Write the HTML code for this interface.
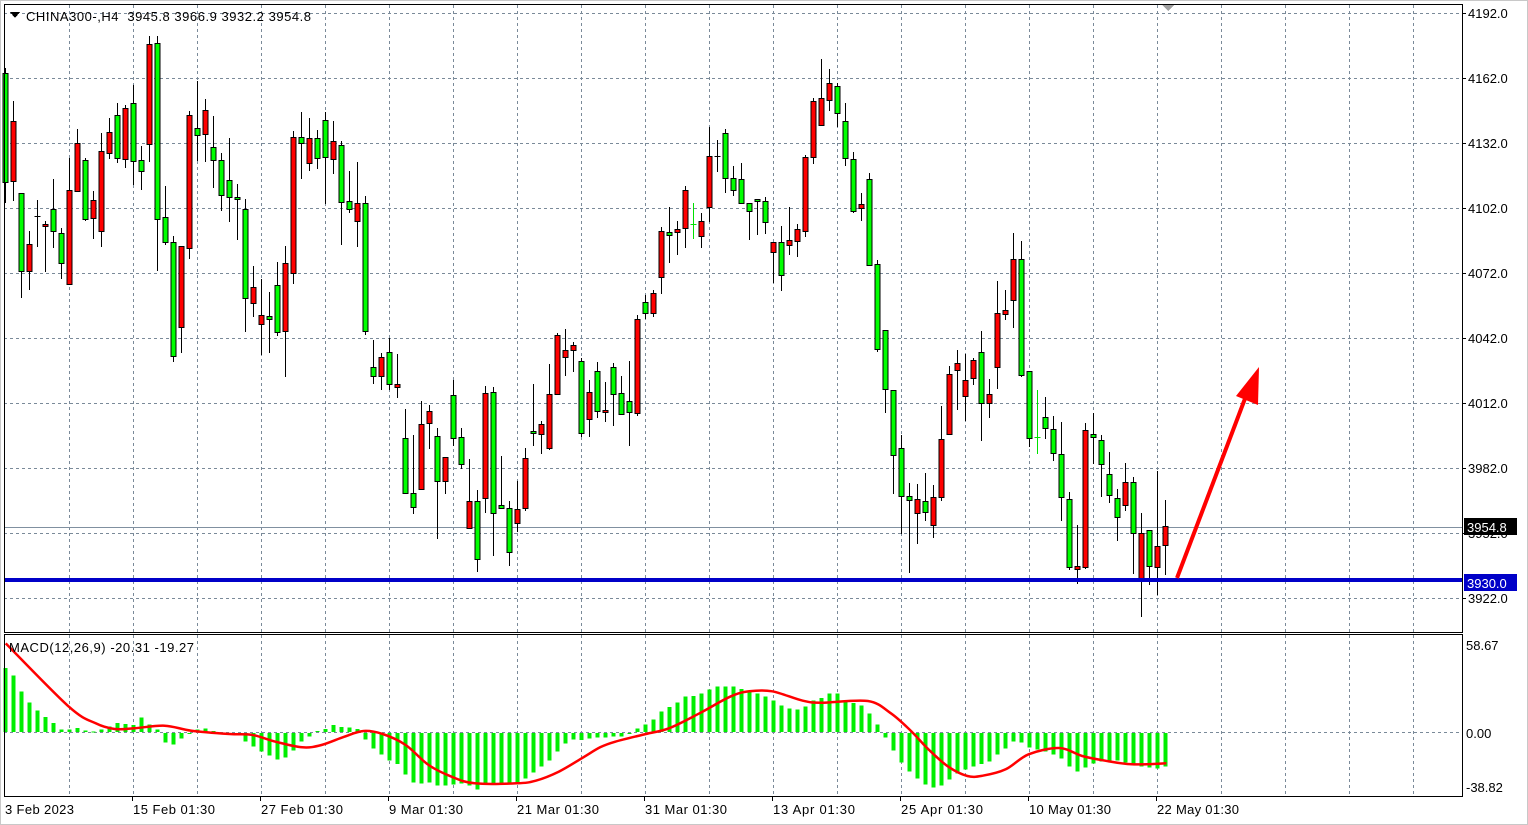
<!DOCTYPE html>
<html><head><meta charset="utf-8"><style>
html,body{margin:0;padding:0;background:#fff;}
svg{display:block;}
text{font-family:"Liberation Sans",sans-serif;font-size:13px;fill:#000;white-space:pre;}
</style></head><body>
<svg id="s" width="1528" height="825" xmlns="http://www.w3.org/2000/svg" shape-rendering="crispEdges">
<rect x="0" y="0" width="1528" height="825" fill="#fff"/>
<rect x="0.5" y="0.5" width="1527" height="824" fill="none" stroke="#c8c8c8"/>
<g id="grid"></g>
<line x1="4" y1="527.5" x2="1462" y2="527.5" stroke="#8090a0"/>
<g id="macd"></g>
<g id="cand"></g>
<rect x="4" y="578" width="1458" height="4" fill="#0000c8"/>
<g shape-rendering="auto">
<line x1="1177" y1="578" x2="1246" y2="396" stroke="#ff0000" stroke-width="4"/>
<polygon points="1259,367 1258,405 1236,396" fill="#ff0000"/>
</g>
<rect x="4.5" y="4.5" width="1458" height="628" fill="none" stroke="#000"/>
<rect x="4.5" y="634.5" width="1458" height="162" fill="none" stroke="#000"/>
<polygon points="1162,5 1174,5 1168,11" fill="#a0a0a0"/>
<polygon points="10,12 20,12 15,18" fill="#000"/>
<text x="26" y="21" textLength="285" lengthAdjust="spacing">CHINA300-,H4  3945.8 3966.9 3932.2 3954.8</text>
<text x="9" y="652" textLength="185" lengthAdjust="spacing">MACD(12,26,9) -20.31 -19.27</text>
<g id="axis"></g>
<rect x="1464" y="518" width="53" height="17" fill="#000"/>
<text x="1467" y="532" style="fill:#fff">3954.8</text>
<rect x="1464" y="574" width="53" height="17" fill="#0000c8"/>
<text x="1467" y="588" style="fill:#fff">3930.0</text>
</svg>
<script>
var NS="http://www.w3.org/2000/svg";
function el(p,t,a){var e=document.createElementNS(NS,t);for(var k in a)e.setAttribute(k,a[k]);p.appendChild(e);return e;}
var grid=document.getElementById('grid'),axis=document.getElementById('axis');
var labels=["4192.0","4162.0","4132.0","4102.0","4072.0","4042.0","4012.0","3982.0","3952.0","3922.0"];
for(var i=0;i<10;i++){var y=13+i*65;
 el(grid,'line',{x1:4,x2:1462,y1:y+0.5,y2:y+0.5,stroke:'#7a8a99','stroke-dasharray':'3,3'});
 el(axis,'line',{x1:1462,x2:1466,y1:y+0.5,y2:y+0.5,stroke:'#000'});
 var t=el(axis,'text',{x:1468,y:y+5});t.textContent=labels[i];}
el(grid,'line',{x1:4,x2:1462,y1:732.5,y2:732.5,stroke:'#7a8a99','stroke-dasharray':'3,3'});
[[645,"58.67"],[733,"0.00"],[787,"-38.82"]].forEach(function(a){var t=el(axis,'text',{x:1466,y:a[0]+5});t.textContent=a[1];});
for(var x=69.5;x<1462;x+=64){
 el(grid,'line',{x1:x,x2:x,y1:5,y2:632,stroke:'#7a8a99','stroke-dasharray':'3,3'});
 el(grid,'line',{x1:x,x2:x,y1:635,y2:796,stroke:'#7a8a99','stroke-dasharray':'3,3'});}
var dl=["3 Feb 2023","15 Feb 01:30","27 Feb 01:30","9 Mar 01:30","21 Mar 01:30","31 Mar 01:30","13 Apr 01:30","25 Apr 01:30","10 May 01:30","22 May 01:30"];
for(var i=0;i<dl.length;i++){var x=5+128*i;if(i>0)el(axis,'line',{x1:x-0.5,x2:x-0.5,y1:797,y2:801,stroke:'#000'});
 var t=el(axis,'text',{x:x,y:814});t.textContent=dl[i];if(i>0){t.setAttribute('textLength',dl[i].length>11?82:74);}else{t.setAttribute('textLength',69);}}
var C=[[73,182,68,203,'g'],[121,181,101,201,'r'],[193,271,193,298,'g'],[244,271,231,290,'r'],[216,218,200,247,'d'],[224,226,221,272,'r'],[209,231,179,248,'g'],[233,263,228,279,'g'],[190,284,158,284,'r'],[143,191,129,191,'r'],
[160,219,158,221,'g'],[200,218,191,239,'r'],[151,231,133,247,'r'],[132,153,118,159,'r'],[115,158,103,163,'g'],[108,159,105,168,'r'],[103,161,85,185,'g'],[160,171,146,190,'g'],[44,144,36,162,'r'],[43,219,36,271,'g'],
[217,242,186,245,'g'],[242,356,236,362,'g'],[246,327,246,353,'r'],[115,248,111,259,'r'],[128,135,81,161,'g'],[110,134,99,162,'r'],[147,160,116,188,'g'],[160,195,153,211,'g'],[180,197,138,222,'g'],[197,199,184,240,'g'],
[209,298,199,332,'g'],[287,303,266,317,'r'],[315,324,279,355,'r'],[316,319,292,353,'g'],[285,332,262,336,'g'],[263,331,246,377,'r'],[137,273,131,284,'r'],[137,143,112,179,'g'],[138,163,118,171,'r'],[138,158,130,169,'g'],
[120,157,112,204,'g'],[141,159,121,174,'r'],[145,202,141,245,'g'],[201,209,171,213,'g'],[203,221,162,247,'r'],[203,331,196,335,'g'],[367,376,340,384,'g'],[357,376,353,390,'r'],[352,384,338,390,'g'],[384,387,354,398,'r'],
[438,493,409,494,'g'],[493,507,435,514,'g'],[424,489,401,489,'r'],[411,423,405,449,'r'],[436,481,428,539,'g'],[457,481,457,494,'r'],[395,438,380,446,'g'],[437,464,428,469,'g'],[501,528,459,528,'r'],[501,559,490,572,'g'],
[393,498,386,513,'r'],[392,513,387,556,'g'],[505,508,456,508,'g'],[508,552,501,566,'g'],[509,523,481,532,'r'],[458,508,448,511,'r'],[431,433,384,446,'g'],[424,434,421,454,'r'],[394,448,364,450,'r'],[335,394,333,394,'r'],
[350,357,329,376,'r'],[345,350,342,372,'r'],[361,433,358,437,'g'],[392,419,380,437,'r'],[371,411,362,418,'g'],[410,412,382,422,'r'],[367,394,363,426,'g'],[393,414,376,414,'g'],[401,412,361,446,'g'],[319,413,315,416,'r'],
[302,313,295,319,'g'],[293,313,290,317,'r'],[231,277,227,294,'r'],[232,235,207,263,'g'],[229,232,221,255,'r'],[190,228,186,248,'r'],[224,224,203,239,'x'],[221,236,213,248,'r'],[156,207,127,222,'r'],[156,156,140,172,'d'],
[133,178,129,193,'g'],[178,190,166,196,'g'],[179,203,163,204,'g'],[203,211,203,240,'g'],[199,201,199,235,'g'],[201,222,197,234,'g']];
var Z=[[527,554,527,640,'r'],[527,617,482,662,'g'],[521,536,431,563,'r'],[491,523,476,568,'r'],[293,497,287,512,'r'],[139,293,130,313,'r'],[130,205,22,205,'r'],[89,136,50,166,'r'],[97,172,89,211,'g'],[194,295,143,318,'g'],
[298,440,279,446,'g'],[422,433,391,470,'r'],[353,590,337,590,'g'],[587,821,576,829,'g'],[768,931,768,997,'g'],[934,1112,934,1220,'g'],[1093,1225,1059,1330,'g'],[1225,1236,1191,1438,'g'],[1233,1274,1194,1357,'r'],[1239,1269,1164,1295,'g'],
[1228,1305,1197,1343,'r'],[1068,1228,979,1240,'r'],[890,1056,869,1056,'r'],[859,878,824,989,'r'],[906,950,835,1019,'r'],[851,902,845,920,'r'],[829,971,773,1075,'g'],[944,971,905,1011,'r'],[722,870,634,932,'r'],[713,724,660,742,'r'],
[573,686,503,764,'r'],[573,892,525,898,'g'],[881,1065,881,1090,'g'],[1063,1063,935,1110,'x'],[1008,1039,953,1069,'g'],[1041,1109,1007,1130,'g'],[1111,1228,1023,1295,'g'],[1233,1422,1214,1430,'g'],[1419,1428,1307,1468,'r'],[1044,1422,1024,1428,'r'],
[1054,1063,998,1138,'g'],[1071,1137,1059,1230,'g'],[1166,1224,1106,1245,'g'],[1231,1285,1208,1350,'g'],[1187,1252,1136,1267,'r'],[1187,1329,1175,1440,'g'],[1327,1455,1274,1560,'r'],[1321,1419,1321,1472,'g'],[1365,1422,1158,1500,'r'],[1310,1362,1238,1445,'r']];
Z.forEach(function(a){var f=function(z){return Math.round(50.8+0.3631*z);};C.push([f(a[0]),f(a[1]),f(a[2]),f(a[3]),a[4]]);});
var cg=document.getElementById('cand');
C.forEach(function(a,k){var c=5.5+8*k;
 if(a[4]=='x'){el(cg,'line',{x1:c,x2:c,y1:a[2],y2:a[3],stroke:'#00e000'});el(cg,'line',{x1:c-3,x2:c+3,y1:a[0]+0.5,y2:a[0]+0.5,stroke:'#00e000'});return;}
 el(cg,'line',{x1:c,x2:c,y1:a[2],y2:a[3],stroke:'#000'});
 if(a[4]=='d'||a[1]-a[0]<1){el(cg,'line',{x1:c-3,x2:c+3,y1:a[0]+0.5,y2:a[0]+0.5,stroke:'#000'});if(a[4]=='d')return;}
 el(cg,'rect',{x:c-2.5,y:a[0]+0.5,width:5,height:Math.max(2,a[1]-a[0]),fill:a[4]=='g'?'#00ff00':'#ff0000',stroke:'#000'});
});
var H=[192,169,121,88,64,45,27,7,7,12,4,2,7,16,27,24,21,43,22,7,-28,-35,-17,-3,8,10,3,-1,-2,-4,-25,-41,-55,-67,-79,-74,-53,-25,-10,3,9,21,15,14,9,-20,-46,-64,-82,-93,-125,-149,-151,-148,-158,-158,-154,-152,-158,-169,-153,-153,-153,-153,-153,-136,-118,-100,-82,-55,-31,-20,-21,-16,-14,-13,-11,-11,-2,10,22,37,62,75,88,106,108,115,127,136,136,136,129,121,115,106,94,79,71,67,76,94,102,115,115,94,87,79,55,22,-14,-52,-88,-115,-136,-154,-163,-157,-139,-121,-109,-100,-93,-85,-65,-46,-25,-28,-43,-50,-55,-64,-76,-100,-115,-103,-91,-85,-82,-82,-88,-96,-100,-103,-106,-100];
var mg=document.getElementById('macd');
H.forEach(function(v,k){var c=5.5+8*k;var h=Math.abs(v)/3;var y=v>0?732-h:733;
 el(mg,'rect',{x:c-2,y:y,width:4,height:Math.max(1,h),fill:'#00ee00'});});
var S1=[[15,40],[180,230],[250,280],[300,297],[350,295],[430,287],[500,302],[600,312],[660,315],[720,335],[790,352],[840,345],[900,320],[950,303],[1000,312],[1060,345],[1120,405],[1180,440],[1240,460],[1350,460],[1400,452],[1460,425],[1520,385],[1568,352]];
var S2=[[40,335],[120,312],[180,295],[260,250],[340,200],[390,184],[450,184],[530,212],[580,218],[700,213],[760,250],[810,300],[860,360],[910,410],[960,438],[1000,437],[1060,418],[1120,373],[1200,354],[1260,378],[1320,392],[1390,403],[1480,400]];
var pts=[];S1.forEach(function(p){pts.push([p[0]/2.613,630+p[1]/3]);});S2.forEach(function(p){pts.push([600+p[0]/2.613,630+p[1]/3]);});
var d="M"+pts[0][0]+","+pts[0][1];
for(var i=1;i<pts.length;i++){var p0=pts[i-1],p1=pts[i],pm=pts[Math.max(0,i-2)],pn=pts[Math.min(pts.length-1,i+1)];
 var c1=[p0[0]+(p1[0]-pm[0])/6,p0[1]+(p1[1]-pm[1])/6],c2=[p1[0]-(pn[0]-p0[0])/6,p1[1]-(pn[1]-p0[1])/6];
 d+=" C"+c1[0].toFixed(1)+","+c1[1].toFixed(1)+" "+c2[0].toFixed(1)+","+c2[1].toFixed(1)+" "+p1[0].toFixed(1)+","+p1[1].toFixed(1);}
el(mg,'path',{d:d,fill:'none',stroke:'#ff0000','stroke-width':2.5,'shape-rendering':'auto'});
</script>
</body></html>
